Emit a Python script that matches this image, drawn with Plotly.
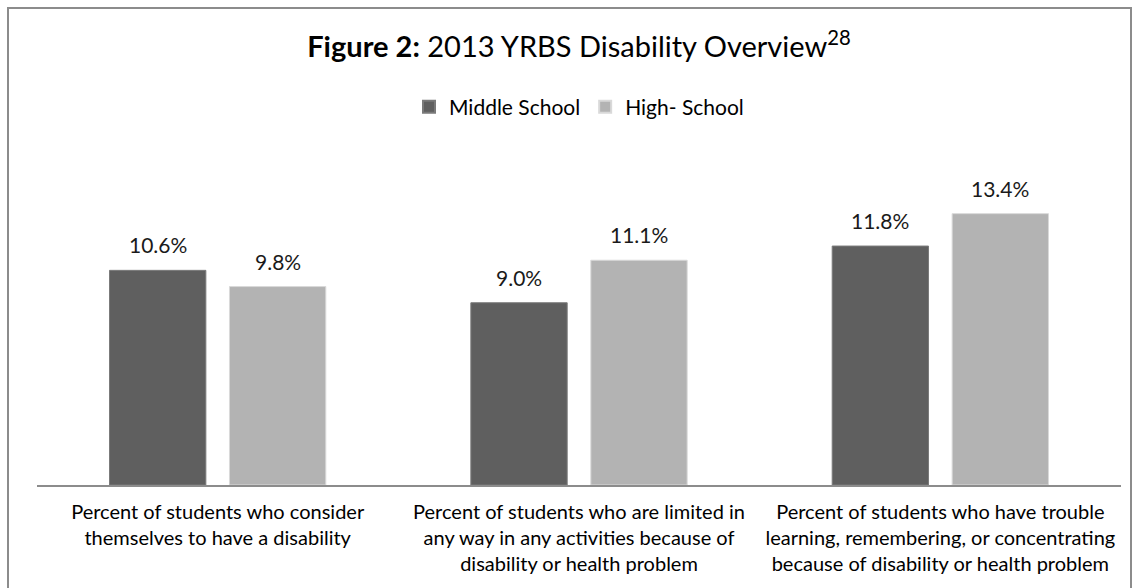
import plotly.graph_objects as go

categories = [
    "Percent of students who consider<br>themselves to have a disability",
    "Percent of students who are limited in<br>any way in any activities because of<br>disability or health problem",
    "Percent of students who have trouble<br>learning, remembering, or concentrating<br>because of disability or health problem",
]
series_names = ["Middle School", "High- School"]
middle_school = [10.6, 9.0, 11.8]
high_school = [9.8, 11.1, 13.4]
colors = ["#5f5f5f", "#b3b3b3"]
line_colors = ["#7a7a7a", "#d9d9d9"]

FONT = "Lato, 'Open Sans', sans-serif"
W, H = 1140, 588
ML, MR, MT, MB = 37, 19, 161, 103
PW = W - ML - MR
PH = H - MT - MB
BARGAP, GROUPGAP = 0.336, 0.197

fig = go.Figure()
for name, vals, c, lc in zip(series_names, [middle_school, high_school], colors, line_colors):
    fig.add_trace(go.Bar(
        x=categories, y=vals, name=name,
        marker=dict(color=c, line=dict(color=lc, width=1)),
    ))

# data labels above bars
slot = PW / 3 * (1 - BARGAP) / 2
for i, vals in enumerate([middle_school, high_school]):
    shift = (-0.5 if i == 0 else 0.5) * slot
    for cat, v in zip(categories, vals):
        fig.add_annotation(
            x=cat, y=v, xref="x", yref="y", text=f"{v:.1f}%",
            showarrow=False, xshift=shift, yanchor="bottom", yshift=11,
            font=dict(family=FONT, size=21, color="#1a1a1a"),
        )

# outer border
fig.add_shape(
    type="rect", xref="paper", yref="paper",
    x0=(8 - ML) / PW, x1=(1131 - ML) / PW,
    y0=(H - MB - 600) / PH, y1=(H - MB - 8) / PH,
    line=dict(color="#8c8c8c", width=2), fillcolor="rgba(0,0,0,0)", layer="below",
)

fig.update_layout(
    width=W, height=H,
    margin=dict(l=ML, r=MR, t=MT, b=MB),
    paper_bgcolor="white", plot_bgcolor="white",
    barmode="group", bargap=BARGAP, bargroupgap=GROUPGAP,
    title=dict(
        text="<b>Figure 2:</b> 2013 YRBS Disability Overview<sup>28</sup>",
        x=0.5, xref="paper", xanchor="center",
        y=1 - 47 / H, yref="container", yanchor="middle",
        font=dict(family=FONT, size=29, color="#000000"),
    ),
    legend=dict(
        orientation="h", x=0.5, xanchor="center", xref="paper",
        y=1 - 107 / H, yref="container", yanchor="middle",
        font=dict(family=FONT, size=21, color="#000000"),
        itemsizing="constant", traceorder="normal", itemwidth=30,
    ),
    xaxis=dict(
        showline=True, linecolor="#8c8c8c", linewidth=2,
        ticks="", showgrid=False,
        tickfont=dict(family=FONT, size=20, color="#000000"),
        ticklabelstandoff=8,
    ),
    yaxis=dict(
        range=[0, 16], visible=False, showgrid=False, zeroline=False,
    ),
    showlegend=True,
)

fig.write_html(
    "out.html",
    config={"displayModeBar": False},
    post_script="document.body.style.margin='0px';",
)
